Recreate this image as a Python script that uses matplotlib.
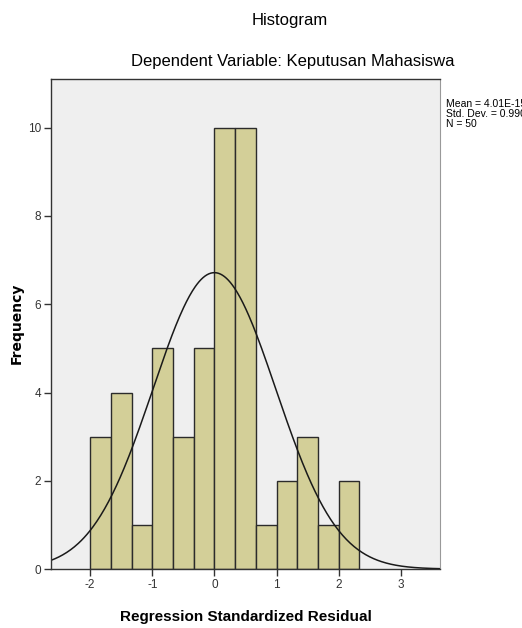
import matplotlib
matplotlib.use("Agg")
import matplotlib.pyplot as plt
import numpy as np

# Histogram data (bin width 1/3, starting at -2)
bin_edges = [-2 + i / 3 for i in range(14)]
counts = [3, 4, 1, 5, 3, 5, 10, 10, 1, 2, 3, 1, 2]
mean_val = 4.01e-15
std_val = 0.990
n_obs = 50
x_ticks = [-2, -1, 0, 1, 2, 3]
y_ticks = [0, 2, 4, 6, 8, 10]

plt.rcParams['font.family'] = ['Liberation Sans', 'DejaVu Sans']
plt.rcParams['axes.unicode_minus'] = False

fig = plt.figure(figsize=(5.22, 6.28), dpi=100)
ax = fig.add_axes([0.0977, 0.0939, 0.745, 0.780])
ax.set_facecolor('#efefef')

widths = np.diff(bin_edges)
ax.bar(bin_edges[:-1], counts, width=widths, align='edge',
       color='#d3cf98', edgecolor='#2b2b2b', linewidth=1.0)

# normal curve scaled to counts
xs = np.linspace(-2.63, 3.63, 400)
bw = widths[0]
ys = n_obs * bw / (std_val * np.sqrt(2 * np.pi)) * np.exp(-0.5 * ((xs - mean_val) / std_val) ** 2)
ax.plot(xs, ys, color='#1a1a1a', linewidth=1.1)

ax.set_xlim(-2.63, 3.63)
ax.set_ylim(0, 11.1)
ax.set_xticks(x_ticks)
ax.set_yticks(y_ticks)
ax.tick_params(labelsize=8.5, length=5, width=1, colors='#333333', pad=2)
for s in ['left', 'bottom', 'top']:
    ax.spines[s].set_color('#333333')
    ax.spines[s].set_linewidth(1.0)
ax.spines['right'].set_color('#999999')

ax.set_xlabel('Regression Standardized Residual', fontsize=11, fontweight='bold', labelpad=14)
fig.text(0.033, 0.485, 'Frequency', rotation=90, ha='center', va='center',
         fontsize=10, fontweight='bold', family=['DejaVu Sans'])

fig.text(0.555, 0.968, 'Histogram', ha='center', va='center', fontsize=12)
fig.text(0.560, 0.902, 'Dependent Variable: Keputusan Mahasiswa', ha='center', va='center', fontsize=12)

fig.text(0.854, 0.818,
         f'Mean = 4.01E-15\nStd. Dev. = {std_val:.3f}\nN = {n_obs}',
         ha='left', va='center', fontsize=7.5, linespacing=1.0)

fig.savefig('out.png', dpi=100)
